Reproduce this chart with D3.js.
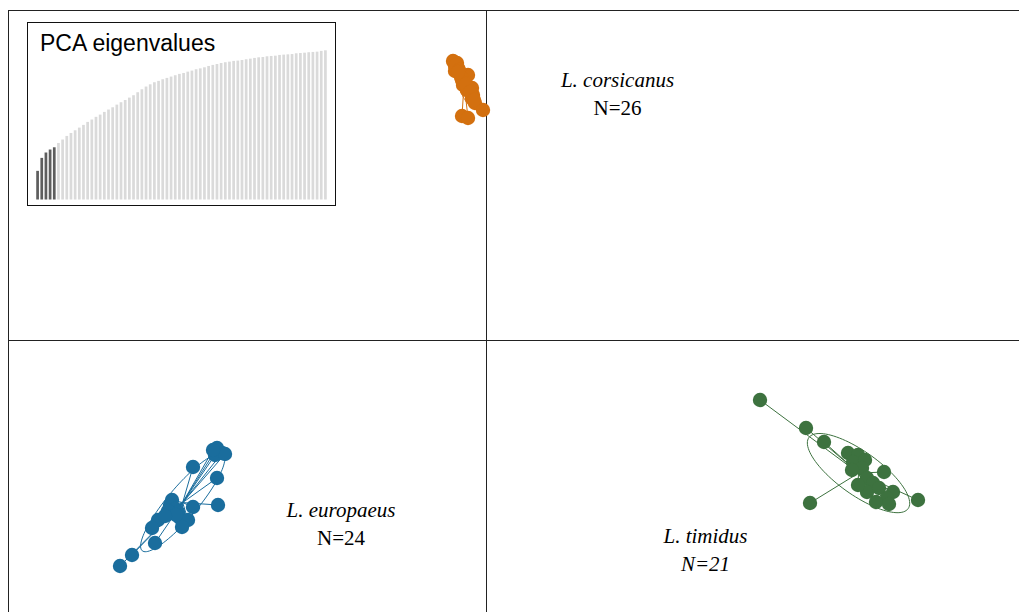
<!DOCTYPE html>
<html>
<head>
<meta charset="utf-8">
<script src="https://cdn.jsdelivr.net/npm/d3@7"></script>
<style>
  body { margin: 0; background: #fff; }
  svg { display: block; }
</style>
</head>
<body>
<div id="chart"></div>
<script>
// groups shown in the plot
var group_names = ["L. corsicanus", "L. europaeus", "L. timidus"];
var group_colors = ["#d3700f", "#1a6d9d", "#3d723f"];

// PC1 scores by group
var corsicanus_pc1 = [-0.33, -0.29, -0.31, -0.28, -0.31, -0.26, -0.18, -0.24, -0.21, -0.23, -0.14, -0.19, -0.13,
  -0.14, -0.11, -0.03, -0.24, -0.18, -0.32, -0.30, -0.27, -0.25, -0.20, -0.16, -0.12, -0.28];
var corsicanus_pc2 = [2.79, 2.77, 2.74, 2.72, 2.69, 2.67, 2.65, 2.60, 2.59, 2.55, 2.52, 2.50, 2.45,
  2.42, 2.37, 2.30, 2.24, 2.22, 2.78, 2.75, 2.70, 2.63, 2.56, 2.48, 2.40, 2.68];

var europaeus_pc1 = [-2.69, -2.64, -2.71, -2.61, -2.73, -2.93, -2.69, -2.68, -2.93, -3.14, -3.16, -3.11,
  -3.08, -3.18, -3.06, -2.98, -3.04, -3.28, -3.34, -3.31, -3.54, -3.66, -3.10, -3.21];
var europaeus_pc2 = [-1.08, -1.13, -1.15, -1.14, -1.10, -1.27, -1.38, -1.65, -1.67, -1.60, -1.65, -1.69,
  -1.72, -1.71, -1.78, -1.80, -1.87, -1.80, -1.88, -2.03, -2.15, -2.26, -1.75, -1.76];

var timidus_pc1 = [2.74, 3.20, 3.38, 3.62, 3.72, 3.67, 3.79, 3.76, 3.66, 3.98, 3.81, 3.87, 3.81,
  3.93, 4.07, 4.01, 3.90, 4.03, 4.32, 3.24, 3.72];
var timidus_pc2 = [-0.60, -0.88, -1.02, -1.13, -1.15, -1.22, -1.20, -1.28, -1.30, -1.32, -1.38, -1.43, -1.52,
  -1.48, -1.52, -1.58, -1.62, -1.64, -1.60, -1.63, -1.45];

// eigenvalue bars (as drawn in the inset, % of the largest bar)
var eigenvalues = [19.2, 27.9, 31.5, 33.5, 35.0, 37.9, 40.2, 42.6, 44.6, 46.4, 48.2, 50.0, 52.0, 53.6,
  55.4, 56.9, 58.7, 60.3, 61.8, 63.6, 65.2, 66.7, 68.3, 69.9, 71.9, 73.9, 75.7, 77.2, 78.6, 79.5,
  80.6, 81.5, 82.4, 83.3, 84.2, 84.8, 85.7, 86.4, 87.3, 87.9, 88.6, 89.5, 90.2, 90.8, 91.5, 92.0,
  92.4, 92.9, 93.1, 93.5, 94.0, 94.4, 94.9, 95.3, 95.5, 96.0, 96.2, 96.4, 96.9, 97.1, 97.3, 97.5,
  98.0, 98.2, 98.4, 98.7, 98.9, 99.1, 99.6, 100];
var axes_kept = 5;

var width = 1019;
var height = 612;

// where the group labels sit (pc units) and whether the count is italic
var label_layout = [
  { x: 1.315, y: 2.527, italicN: false },
  { x: -1.45, y: -1.77, italicN: false },
  { x: 2.195, y: -2.033, italicN: true },
];

window.onload = function () {
  main();
};

function main() {
  var svg = d3
    .select("#chart")
    .append("svg")
    .attr("width", width)
    .attr("height", height);

  // 100 px per unit on both axes, origin at the cross
  var x = d3.scaleLinear().domain([-4.86, 5.33]).range([0, width]);
  var y = d3.scaleLinear().domain([3.4, -2.72]).range([0, height]);

  var groups = [
    { pc1: corsicanus_pc1, pc2: corsicanus_pc2 },
    { pc1: europaeus_pc1, pc2: europaeus_pc2 },
    { pc1: timidus_pc1, pc2: timidus_pc2 },
  ];

  // frame + axes through origin
  svg
    .append("rect")
    .attr("x", 8.5)
    .attr("y", 10.5)
    .attr("width", width + 20)
    .attr("height", height + 20)
    .attr("fill", "none")
    .attr("stroke", "#222")
    .attr("stroke-width", 1);

  svg
    .append("line")
    .attr("x1", Math.round(x(0)) + 0.5)
    .attr("x2", Math.round(x(0)) + 0.5)
    .attr("y1", 10)
    .attr("y2", height)
    .attr("stroke", "#222");

  svg
    .append("line")
    .attr("x1", 8)
    .attr("x2", width)
    .attr("y1", Math.round(y(0)) + 0.5)
    .attr("y2", Math.round(y(0)) + 0.5)
    .attr("stroke", "#222");

  for (var g = 0; g < groups.length; g++) {
    drawGroup(svg, groups[g], group_colors[g], x, y);
  }

  // labels
  for (var i = 0; i < group_names.length; i++) {
    var lab = svg
      .append("g")
      .attr("font-family", "'Liberation Serif', 'Times New Roman', serif")
      .attr("font-size", "21px")
      .attr("fill", "#000")
      .attr("text-anchor", "middle");
    lab
      .append("text")
      .attr("x", x(label_layout[i].x))
      .attr("y", y(label_layout[i].y))
      .style("font-style", "italic")
      .text(group_names[i]);
    lab
      .append("text")
      .attr("x", x(label_layout[i].x))
      .attr("y", y(label_layout[i].y) + 28)
      .style("font-style", label_layout[i].italicN ? "italic" : "normal")
      .text("N=" + groups[i].pc1.length);
  }

  drawInset(svg);
}

function drawGroup(svg, grp, color, x, y) {
  var pts = grp.pc1.map(function (v, i) {
    return [v, grp.pc2[i]];
  });
  var n = pts.length;
  var mx = d3.mean(pts, (p) => p[0]);
  var my = d3.mean(pts, (p) => p[1]);

  // population variances / covariance (like ade4)
  var vx = d3.sum(pts, (p) => (p[0] - mx) * (p[0] - mx)) / n;
  var vy = d3.sum(pts, (p) => (p[1] - my) * (p[1] - my)) / n;
  var cxy = d3.sum(pts, (p) => (p[0] - mx) * (p[1] - my)) / n;
  var delta = Math.sqrt((vx - vy) * (vx - vy) + 4 * cxy * cxy);
  var l1 = (vx + vy + delta) / 2;
  var l2 = Math.max(vx + vy - l1, 0);
  var theta = 0.5 * Math.atan2(2 * cxy, vx - vy);
  var a = Math.sqrt(l1) * 1.5;
  var b = Math.sqrt(l2) * 1.5;

  var ell = d3.range(0, 101).map(function (k) {
    var t = (k / 100) * 2 * Math.PI;
    var ex = a * Math.cos(t);
    var ey = b * Math.sin(t);
    return [
      mx + ex * Math.cos(theta) - ey * Math.sin(theta),
      my + ex * Math.sin(theta) + ey * Math.cos(theta),
    ];
  });

  var layer = svg.append("g");

  layer
    .append("path")
    .datum(ell)
    .attr("fill", "none")
    .attr("stroke", color)
    .attr("stroke-width", 1)
    .attr(
      "d",
      d3
        .line()
        .x((d) => x(d[0]))
        .y((d) => y(d[1]))
    );

  // star lines to centroid
  layer
    .selectAll("line.star")
    .data(pts)
    .enter()
    .append("line")
    .attr("class", "star")
    .attr("x1", x(mx))
    .attr("y1", y(my))
    .attr("x2", (d) => x(d[0]))
    .attr("y2", (d) => y(d[1]))
    .attr("stroke", color)
    .attr("stroke-width", 1);

  layer
    .selectAll("circle")
    .data(pts)
    .enter()
    .append("circle")
    .attr("cx", (d) => x(d[0]))
    .attr("cy", (d) => y(d[1]))
    .attr("r", 7.2)
    .attr("fill", color);
}

function drawInset(svg) {
  var inset = svg.append("g");

  inset
    .append("rect")
    .attr("x", 27.5)
    .attr("y", 22.5)
    .attr("width", 308)
    .attr("height", 183)
    .attr("fill", "#fff")
    .attr("stroke", "#111")
    .attr("stroke-width", 1);

  inset
    .append("text")
    .attr("x", 40)
    .attr("y", 50.5)
    .attr("font-family", "'Liberation Sans', Arial, sans-serif")
    .attr("font-size", "23px")
    .attr("fill", "#000")
    .text("PCA eigenvalues");

  var bx = d3
    .scaleBand()
    .domain(d3.range(eigenvalues.length))
    .range([35.5, 327.5])
    .paddingInner(0.35)
    .paddingOuter(0.175);
  var by = d3.scaleLinear().domain([0, 100]).range([199.5, 50.3]);

  inset
    .selectAll("rect.eig")
    .data(eigenvalues)
    .enter()
    .append("rect")
    .attr("class", "eig")
    .attr("x", (d, i) => bx(i))
    .attr("width", bx.bandwidth())
    .attr("y", (d) => by(d))
    .attr("height", (d) => by(0) - by(d))
    .attr("fill", (d, i) => (i < axes_kept ? "#5e5e5e" : "#dadada"));
}
</script>
</body>
</html>
